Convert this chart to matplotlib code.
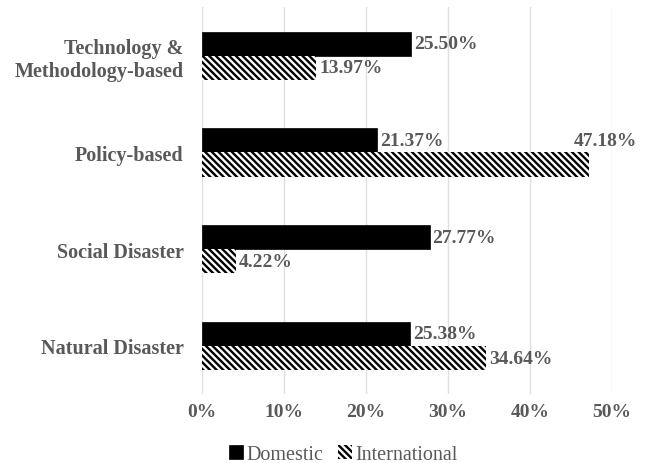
import numpy as np
import matplotlib.pyplot as plt

categories = ["Technology &\nMethodology-based", "Policy-based", "Social Disaster", "Natural Disaster"]
domestic = [25.50, 21.37, 27.77, 25.38]
international = [13.97, 47.18, 4.22, 34.64]
xticks = [0, 10, 20, 30, 40, 50]

plt.rcParams['font.family'] = ['Liberation Serif', 'DejaVu Serif']
plt.rcParams['hatch.linewidth'] = 1.7
grey = '#595959'

fig = plt.figure(figsize=(6.49, 4.64), dpi=100)
ax = fig.add_axes([0.311, 0.148, 0.632, 0.834])

y = np.arange(len(categories))
h = 0.25
ax.barh(y - h / 2, domestic, height=h, color='black', edgecolor='black', linewidth=0.5,
        label='Domestic', zorder=3)
ax.barh(y + h / 2, international, height=h, color='white', edgecolor='black', linewidth=0,
        hatch='\\\\\\\\\\', label='International', zorder=3)

for i in range(len(categories)):
    ax.annotate(f"{domestic[i]:.2f}%", (domestic[i], y[i] - h / 2), xytext=(2, 0),
                textcoords='offset points', ha='left', va='center',
                fontsize=14, fontweight='bold', color=grey)
    if international[i] > 45:
        # label does not fit on the right, moved up
        ax.annotate(f"{international[i]:.2f}%", (international[i], y[i] - h / 2), xytext=(-11, 0),
                    textcoords='offset points', ha='left', va='center',
                    fontsize=14, fontweight='bold', color=grey)
    else:
        ax.annotate(f"{international[i]:.2f}%", (international[i], y[i] + h / 2), xytext=(2, 0),
                    textcoords='offset points', ha='left', va='center',
                    fontsize=14, fontweight='bold', color=grey)

ax.set_ylim(len(categories) - 0.5, -0.5)
ax.set_xlim(0, 50)
ax.set_yticks(y)
ax.set_yticklabels(categories, fontsize=14.5, fontweight='bold', color=grey)
ax.set_xticks(xticks)
ax.set_xticklabels([f"{t}%" for t in xticks], fontsize=14, fontweight='bold', color=grey)
ax.tick_params(length=0)
ax.tick_params(axis='x', pad=6)
ax.tick_params(axis='y', pad=13)
ax.grid(axis='x', color='#e0e0e0', linewidth=1, zorder=0)
for s in ax.spines.values():
    s.set_visible(False)

leg = fig.legend(loc='center', bbox_to_anchor=(0.529, 0.018), ncol=2, frameon=False,
                 prop={'family': 'Liberation Serif', 'size': 14.5},
                 handlelength=0.7, handleheight=0.7, handletextpad=0.2,
                 columnspacing=0.7)
for t in leg.get_texts():
    t.set_color(grey)

fig.savefig('out.png', dpi=100)
